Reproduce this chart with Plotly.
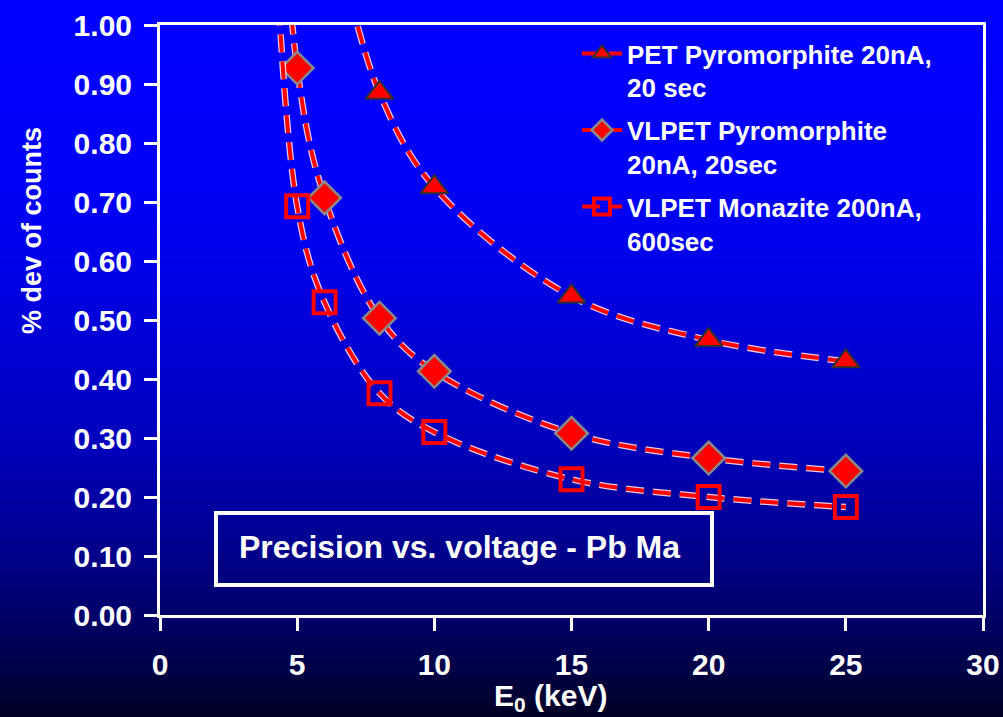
import base64
import struct
import zlib

import plotly.graph_objects as go

# ---- data -------------------------------------------------------------
# accelerating voltage E0 (keV)
energy_pet = [5, 6, 8, 10, 15, 20, 25]
energy_vlpet = [4, 5, 6, 8, 10, 15, 20, 25]

# relative standard deviation of counts (%)
pet_pyromorphite = [1.30, 1.20, 0.885, 0.725, 0.54, 0.466, 0.43]
vlpet_pyromorphite = [1.70, 0.927, 0.707, 0.503, 0.413, 0.308, 0.266, 0.244]
vlpet_monazite = [1.35, 0.693, 0.53, 0.376, 0.31, 0.23, 0.20, 0.183]

series_names = [
    "PET Pyromorphite 20nA,<br>20 sec",
    "VLPET Pyromorphite<br>20nA, 20sec",
    "VLPET Monazite 200nA,<br>600sec",
]

x_ticks = [0, 5, 10, 15, 20, 25, 30]
y_ticks = [0.0, 0.1, 0.2, 0.3, 0.4, 0.5, 0.6, 0.7, 0.8, 0.9, 1.0]

# ---- page geometry ------------------------------------------------------
W, H = 1003, 717
ML, MR, MT, MB = 160, 20, 25, 102
PW, PH = W - ML - MR, H - MT - MB


def px_x(px):
    return (px - ML) / PW


def px_y(py):
    return (H - MB - py) / PH


# ---- vertical background gradient as a tiny PNG -----------------------
def gradient_png(stops, height):
    rows = []
    for y in range(height):
        for (y0, c0), (y1, c1) in zip(stops[:-1], stops[1:]):
            if y0 <= y <= y1:
                t = (y - y0) / max(1, (y1 - y0))
                col = [round(a + (b - a) * t) for a, b in zip(c0, c1)]
                break
        rows.append(b"\x00" + bytes(col))
    raw = b"".join(rows)

    def chunk(tag, data):
        c = struct.pack(">I", len(data)) + tag + data
        return c + struct.pack(">I", zlib.crc32(tag + data) & 0xFFFFFFFF)

    png = b"\x89PNG\r\n\x1a\n"
    png += chunk(b"IHDR", struct.pack(">IIBBBBB", 1, height, 8, 2, 0, 0, 0))
    png += chunk(b"IDAT", zlib.compress(raw, 9))
    png += chunk(b"IEND", b"")
    return "data:image/png;base64," + base64.b64encode(png).decode()


bg_stops = [
    (0, (0, 0, 255)),
    (180, (0, 0, 248)),
    (250, (0, 0, 235)),
    (350, (0, 0, 210)),
    (450, (0, 0, 185)),
    (550, (0, 0, 140)),
    (615, (0, 0, 105)),
    (680, (0, 0, 62)),
    (716, (0, 0, 38)),
]

FONT = "Liberation Sans, Arial, sans-serif"
RED = "#ff0000"
DASH = "18px,9px"

fig = go.Figure()

styles = [
    (energy_pet, pet_pyromorphite,
     dict(symbol="triangle-up", size=24, color=RED,
          line=dict(color="#303030", width=2))),
    (energy_vlpet, vlpet_pyromorphite,
     dict(symbol="diamond", size=25, color=RED,
          line=dict(color="#8a8a8a", width=2.5))),
    (energy_vlpet, vlpet_monazite,
     dict(symbol="square-open", size=22, color=RED,
          line=dict(color=RED, width=4))),
]

for i, ((xs, ys, marker), name) in enumerate(zip(styles, series_names)):
    # pale halo under the dashed line
    fig.add_trace(go.Scatter(
        x=xs, y=ys, mode="lines", showlegend=False, hoverinfo="skip",
        legendgroup=f"g{i}",
        line=dict(color="rgba(255,225,225,0.9)", width=6.5, dash=DASH,
                  shape="spline", smoothing=1.0),
    ))
    fig.add_trace(go.Scatter(
        x=xs, y=ys, mode="lines+markers", name=name, legendgroup=f"g{i}",
        line=dict(color=RED, width=4, dash=DASH, shape="spline", smoothing=1.0),
        marker=marker,
    ))

axis_common = dict(
    showline=True, linecolor="white", linewidth=3, mirror=True,
    ticks="outside", tickcolor="white", tickwidth=3, ticklen=13,
    showgrid=False, zeroline=False, automargin=False,
    tickfont=dict(family=FONT, size=30, color="white", weight="bold"),
)

fig.update_xaxes(range=[0, 30], tickvals=x_ticks,
                 ticktext=[str(v) for v in x_ticks],
                 ticklabelstandoff=8, **axis_common)
fig.update_yaxes(range=[0, 1.0], tickvals=y_ticks,
                 ticktext=[f"{v:.2f}" for v in y_ticks],
                 ticklabelstandoff=6, **axis_common)

# chart caption in a framed box
fig.add_shape(type="rect", xref="paper", yref="paper",
              x0=px_x(216), x1=px_x(712), y0=px_y(585), y1=px_y(513),
              line=dict(color="white", width=4), layer="above")

annotations = [
    dict(text="Precision vs. voltage - Pb Ma", x=px_x(459), y=px_y(547),
         font=dict(family=FONT, size=32, color="white", weight="bold")),
    dict(text="% dev of counts", x=px_x(32), y=px_y(231), textangle=-90,
         font=dict(family=FONT, size=27, color="white", weight="bold")),
    dict(text="E<sub>0</sub> (keV)", x=px_x(550), y=px_y(697),
         font=dict(family=FONT, size=30, color="white", weight="bold")),
]
for a in annotations:
    fig.add_annotation(xref="paper", yref="paper", showarrow=False,
                       xanchor="center", yanchor="middle", **a)

fig.add_layout_image(
    source=gradient_png(bg_stops, H), xref="paper", yref="paper",
    x=px_x(0), y=px_y(0), sizex=W / PW, sizey=H / PH,
    xanchor="left", yanchor="top", sizing="stretch", layer="below",
)

fig.update_layout(
    width=W, height=H,
    margin=dict(l=ML, r=MR, t=MT, b=MB, autoexpand=False),
    paper_bgcolor="#000066", plot_bgcolor="rgba(0,0,0,0)",
    showlegend=True,
    legend=dict(
        x=px_x(577), y=px_y(30), xanchor="left", yanchor="top",
        bgcolor="rgba(0,0,0,0)", borderwidth=0, valign="top",
        font=dict(family=FONT, size=26, color="white", weight="bold"),
        tracegroupgap=6, itemwidth=40,
    ),
)

fig.write_html("out.html")
